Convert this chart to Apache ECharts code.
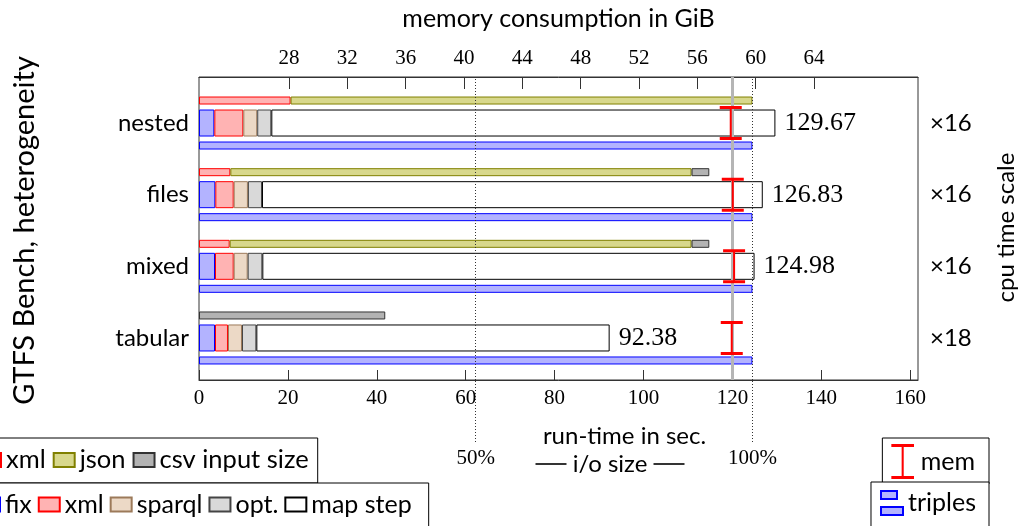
<!DOCTYPE html>
<html><head><meta charset="utf-8">
<script src="https://cdn.jsdelivr.net/npm/echarts@6/dist/echarts.min.js"></script>
<style>html,body{margin:0;padding:0;background:#fff}#c{width:1020px;height:526px}</style>
</head><body><div id="c"></div>
<script>
// ---- data ----
const categories = ['nested', 'files', 'mixed', 'tabular'];
const cpuScale = ['×16', '×16', '×16', '×18'];
const inputXml = [20.6, 7.05, 6.9, null];
const inputJson = [103.9, 103.75, 103.9, null];
const inputCsv = [null, 4.0, 4.0, 41.9];
const runFix = [3.45, 3.67, 3.6, 3.6];
const runXml = [6.52, 4.13, 4.2, 2.92];
const runSparql = [3.13, 3.2, 3.15, 3.15];
const runOpt = [3.17, 3.17, 3.3, 3.23];
const runTotal = [129.67, 126.83, 124.98, 92.38];
const triples = [124.5, 124.5, 124.5, 124.5];
const memGiB = [58.29, 58.43, 58.52, 58.36];
const runTicks = [0, 20, 40, 60, 80, 100, 120, 140, 160];
const memTicks = [28, 32, 36, 40, 44, 48, 52, 56, 60, 64];
const ioLevels = [62.25, 124.5];
const ioLabels = ['50%', '100%'];
const runLimit = 120;

const mapStep = runTotal.map((t, i) => +(t - runFix[i] - runXml[i] - runSparql[i] - runOpt[i]).toFixed(2));

const SANS = 'Lato';
const SERIF = 'Liberation Serif';
const RUN_MIN = 0, RUN_MAX = 161.75, MEM_MIN = 21.83, MEM_MAX = 71.13;
const IBEAM = 'path://M0,0H22V3H12V31H22V34H0V31H10V3H0Z';

const chart = echarts.init(document.getElementById('c'), null, {renderer: 'canvas'});

function barSeries(name, data, stack, width, fill, border, extra) {
  return Object.assign({
    type: 'bar', name, data, stack, barWidth: width, barGap: '0%',
    xAxisIndex: 2, yAxisIndex: 1, z: 3,
    itemStyle: {color: fill, borderColor: border, borderWidth: 1},
    emphasis: {disabled: true}
  }, extra || {});
}
function spacer(stack) {
  return {type: 'bar', data: [0, 0, 0, 0], stack, barWidth: 5, barGap: '0%', xAxisIndex: 2, yAxisIndex: 1,
    itemStyle: {color: 'rgba(0,0,0,0)', borderWidth: 0}, silent: true};
}

const legendBase = {
  orient: 'horizontal', itemGap: 6, itemWidth: 21, itemHeight: 14, icon: 'rect',
  textStyle: {fontFamily: SANS, fontSize: 25, color: '#000'},
  borderColor: '#000', borderWidth: 1, backgroundColor: '#fff', selectedMode: false
};

const gridBase = {outerBoundsMode: 'none', containLabel: false};

const option = {
  animation: false,
  backgroundColor: '#fff',
  grid: [
    Object.assign({left: 199, top: 77, width: 719, height: 303, show: true, borderColor: '#333', borderWidth: 1, backgroundColor: 'rgba(0,0,0,0)'}, gridBase),
    Object.assign({left: 199, top: 87.2, width: 719, height: 286.6}, gridBase),
    Object.assign({left: 199, top: 380, width: 719, height: 62}, gridBase)
  ],
  xAxis: [
    {type: 'value', gridIndex: 0, position: 'bottom', min: RUN_MIN, max: RUN_MAX,
     axisLine: {lineStyle: {color: '#333'}},
     axisTick: {inside: true, length: 10, lineStyle: {color: '#333'}, customValues: runTicks},
     axisLabel: {customValues: runTicks, fontFamily: SERIF, fontSize: 21, color: '#000', margin: 8},
     splitLine: {show: false},
     name: 'run-time in sec.', nameLocation: 'middle', nameGap: 44,
     nameTextStyle: {fontFamily: SANS, fontSize: 24, color: '#000', padding: [0, 0, 0, 132]}},
    {type: 'value', gridIndex: 0, position: 'top', min: MEM_MIN, max: MEM_MAX,
     axisLine: {lineStyle: {color: '#333'}},
     axisTick: {inside: true, length: 12, lineStyle: {color: '#333'}, customValues: memTicks},
     axisLabel: {customValues: memTicks, fontFamily: SERIF, fontSize: 21, color: '#000', margin: 8},
     splitLine: {show: false},
     name: 'memory consumption in GiB', nameLocation: 'middle', nameGap: 46,
     nameTextStyle: {fontFamily: SANS, fontSize: 25, color: '#000'}},
    {type: 'value', gridIndex: 1, position: 'bottom', min: RUN_MIN, max: RUN_MAX, show: false},
    {type: 'value', gridIndex: 1, position: 'top', min: MEM_MIN, max: MEM_MAX, show: false},
    {type: 'value', gridIndex: 2, position: 'bottom', min: RUN_MIN, max: RUN_MAX,
     axisLine: {show: false}, axisTick: {show: false}, axisLabel: {show: false}, splitLine: {show: false},
     name: '{d| } i/o size {d| }', nameLocation: 'middle', nameGap: 10,
     nameTextStyle: {fontFamily: SANS, fontSize: 24, color: '#000', padding: [0, 0, 0, 103],
       rich: {d: {width: 31, height: 1.6, backgroundColor: '#000', fontSize: 24}}}}
  ],
  yAxis: [
    {type: 'value', gridIndex: 0, min: 0, max: 1, show: false},
    {type: 'category', gridIndex: 1, position: 'left', inverse: true, data: categories,
     axisLine: {show: false},
     axisTick: {inside: true, alignWithLabel: true, length: 10, lineStyle: {color: '#333'}},
     axisLabel: {fontFamily: SANS, fontSize: 24, color: '#000', margin: 10},
     name: 'GTFS Bench, heterogeneity', nameLocation: 'middle', nameRotate: 90, nameGap: 160,
     nameTextStyle: {fontFamily: SANS, fontSize: 29, color: '#000'}},
    {type: 'category', gridIndex: 1, position: 'right', inverse: true, data: categories,
     axisLine: {show: false},
     axisTick: {inside: true, alignWithLabel: true, length: 11, lineStyle: {color: '#333'}},
     axisLabel: {fontFamily: SANS, fontSize: 24, color: '#000', margin: 12,
                 formatter: (v, i) => cpuScale[i]},
     name: 'cpu time scale', nameLocation: 'middle', nameRotate: 90, nameGap: 76,
     nameTextStyle: {fontFamily: SANS, fontSize: 24, color: '#000', padding: [0, 0, 0, 6]}},
    {type: 'value', gridIndex: 2, min: 0, max: 1, show: false}
  ],
  legend: [
    Object.assign({}, legendBase, {data: ['xml', 'json', 'csv input size'], left: -33, top: 438,
      itemGap: 7, textStyle: {fontFamily: SANS, fontSize: 25.5, color: '#000'}, padding: [9, 9, 10, 12]}),
    Object.assign({}, legendBase, {data: ['fix', 'xml', 'sparql', 'opt.', 'map step'], left: -34, top: 483, padding: [9, 17, 10, 12]}),
    Object.assign({}, legendBase, {data: [{name: 'mem', icon: IBEAM}], right: 31, top: 438, itemWidth: 26, itemHeight: 35, padding: [6, 14, 5, 9]}),
    Object.assign({}, legendBase, {data: [{name: 'triples', icon: 'path://M0,0H16V8H0Z M0,16H22V24H0Z'}], right: 31, top: 482, itemWidth: 22, itemHeight: 24, padding: [8, 13, 12, 9]})
  ],
  series: [
    {type: 'line', xAxisIndex: 0, yAxisIndex: 0, data: [], z: 1, silent: true,
     markLine: {symbol: 'none', silent: true, animation: false, label: {show: false},
       data: [
         {xAxis: runLimit, lineStyle: {color: '#b5b5b5', width: 3, type: 'solid', opacity: 1}},
         {xAxis: ioLevels[0], lineStyle: {color: '#333', width: 1, type: [1, 2]}},
         {xAxis: ioLevels[1], lineStyle: {color: '#333', width: 1, type: [1, 2]}}
       ]}},
    barSeries('xml', inputXml, 'in', 8, '#ffb3b3', '#ff0000'),
    barSeries('json', inputJson, 'in', 8, '#d8d88c', '#808000'),
    barSeries('csv input size', inputCsv, 'in', 8, '#b3b3b3', '#333'),
    spacer('gap1'),
    barSeries('fix', runFix, 'run', 27, '#b3b3ff', '#0000ff'),
    barSeries('xml', runXml, 'run', 27, '#ffb3b3', '#ff0000'),
    barSeries('sparql', runSparql, 'run', 27, '#ecd9c6', '#9c7a5a'),
    barSeries('opt.', runOpt, 'run', 27, '#d9d9d9', '#444'),
    barSeries('map step', mapStep, 'run', 27, '#ffffff', '#000', {
      label: {show: true, position: 'right', distance: 9, fontFamily: SERIF, fontSize: 26, color: '#000',
              formatter: p => runTotal[p.dataIndex].toFixed(2)}}),
    spacer('gap2'),
    barSeries('triples', triples, 'tr', 8, '#b3b3ff', '#0000ff'),
    {type: 'scatter', name: 'mem', xAxisIndex: 3, yAxisIndex: 1, z: 6,
     data: memGiB.map((m, i) => [m, i]),
     symbol: IBEAM, symbolSize: [22, 34],
     itemStyle: {color: '#ff0000', opacity: 1}, emphasis: {disabled: true}},
    {type: 'line', xAxisIndex: 4, yAxisIndex: 3, data: [], silent: true,
     markLine: {symbol: 'none', silent: true, animation: false,
       lineStyle: {color: '#333', width: 1, type: [1, 2]},
       label: {show: true, position: 'start', distance: 6, fontFamily: SERIF, fontSize: 21, color: '#000',
               formatter: p => ioLabels[p.dataIndex]},
       data: ioLevels.map(v => ({xAxis: v}))}}
  ]
};
chart.setOption(option);
</script></body></html>
